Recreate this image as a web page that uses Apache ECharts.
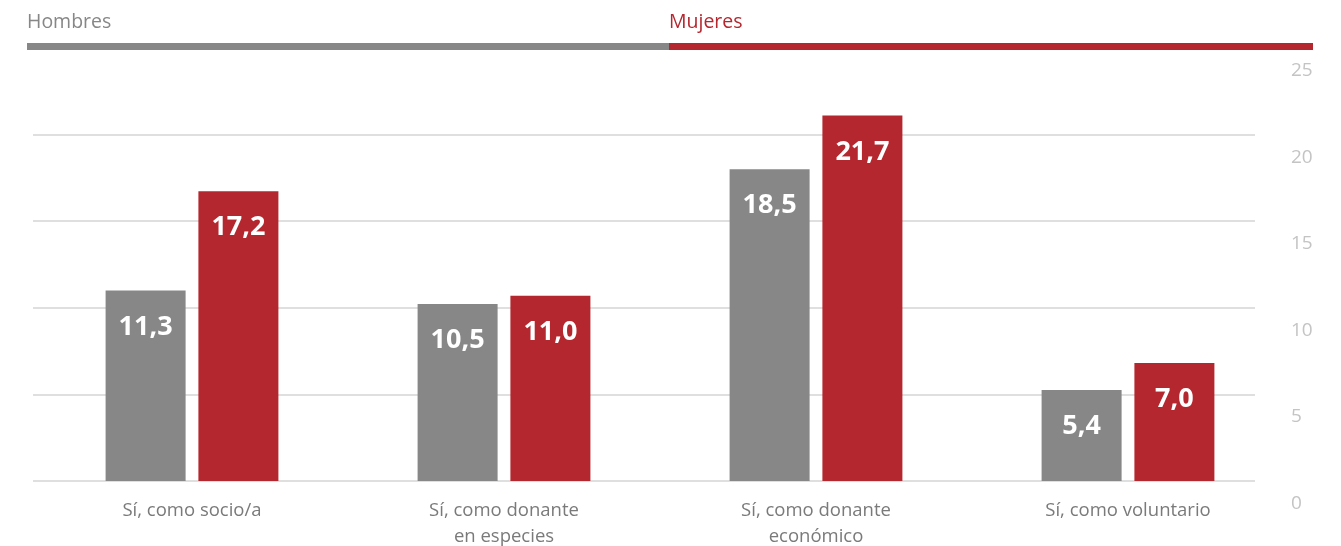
<!DOCTYPE html>
<html lang="es">
<head>
    <meta charset="UTF-8">
    <title>Colaboración</title>
    <script type="text/javascript" src="https://cdn.jsdelivr.net/npm/echarts@6/dist/echarts.min.js"></script>
    <style>
        html, body { margin: 0; padding: 0; background: #fff; }
        #main { width: 1341px; height: 546px; }
    </style>
</head>
<body>
<div id="main"></div>
<script>
    // datos
    var categorias = ['Sí, como socio/a', 'Sí, como donante\nen especies', 'Sí, como donante\neconómico', 'Sí, como voluntario'];
    var nombres = ['Hombres', 'Mujeres'];
    var hombres = [11.3, 10.5, 18.5, 5.4];
    var mujeres = [17.2, 11.0, 21.7, 7.0];
    var ticksY = [0, 5, 10, 15, 20, 25];

    var gris = '#878787';
    var rojo = '#b5272f';
    var fuente = '"Open Sans", "Noto Sans", sans-serif';

    var chart = echarts.init(document.getElementById('main'));

    function etiqueta() {
        return {
            show: true,
            position: 'insideTop',
            distance: 23,
            color: '#fff',
            fontFamily: fuente,
            fontWeight: 'bold',
            fontSize: 27,
            formatter: function (p) { return p.value.toFixed(1).replace('.', ','); }
        };
    }

    var option = {
        animation: false,
        textStyle: { fontFamily: fuente },
        grid: [
            { left: 36, right: 57, top: 48, bottom: 65, outerBoundsMode: 'none' },   // barras
            { left: 33, right: 86, top: 48, bottom: 65, outerBoundsMode: 'none' }    // líneas de referencia
        ],
        xAxis: [
            {
                type: 'category', gridIndex: 0, data: categorias,
                axisLine: { show: false }, axisTick: { show: false },
                axisLabel: { color: '#7a7a7a', fontSize: 18.5, lineHeight: 26, margin: 17, fontFamily: fuente }
            },
            { type: 'value', gridIndex: 1, show: false, min: 0, max: 1 }
        ],
        yAxis: [
            // las barras del original quedan algo más cortas que su retícula
            { type: 'value', gridIndex: 0, min: 0, max: 25.7, show: false },
            {
                type: 'value', gridIndex: 1, position: 'right', min: 0, max: 25, interval: 5,
                axisLine: { show: false }, axisTick: { show: false },
                splitLine: { lineStyle: { color: '#d4d4d4', width: 1.5 } },
                axisLabel: {
                    color: '#c4c4c4', fontSize: 19, fontFamily: fuente,
                    align: 'left', margin: 36, verticalAlign: 'top', padding: [13, 0, 0, 0],
                    formatter: function (v) { return ticksY.indexOf(v) >= 0 ? String(v) : ''; }
                }
            }
        ],
        graphic: [
            { type: 'rect', z: 100, shape: { x: 27, y: 43, width: 642, height: 7 }, style: { fill: gris } },
            { type: 'rect', z: 100, shape: { x: 669, y: 43, width: 644, height: 7 }, style: { fill: rojo } },
            { type: 'text', z: 100, x: 27, y: 12, style: { text: nombres[0], fill: gris, font: '19.5px ' + fuente } },
            { type: 'text', z: 100, x: 669, y: 12, style: { text: nombres[1], fill: rojo, font: '19.5px ' + fuente } }
        ],
        series: [
            {
                name: nombres[0], type: 'bar', xAxisIndex: 0, yAxisIndex: 0,
                data: hombres, barWidth: 80, barGap: '16%',
                itemStyle: { color: gris }, label: etiqueta()
            },
            {
                name: nombres[1], type: 'bar', xAxisIndex: 0, yAxisIndex: 0,
                data: mujeres, barWidth: 80, barGap: '16%',
                itemStyle: { color: rojo }, label: etiqueta()
            },
            { type: 'scatter', xAxisIndex: 1, yAxisIndex: 1, data: [], silent: true }
        ]
    };
    chart.setOption(option);
</script>
</body>
</html>
